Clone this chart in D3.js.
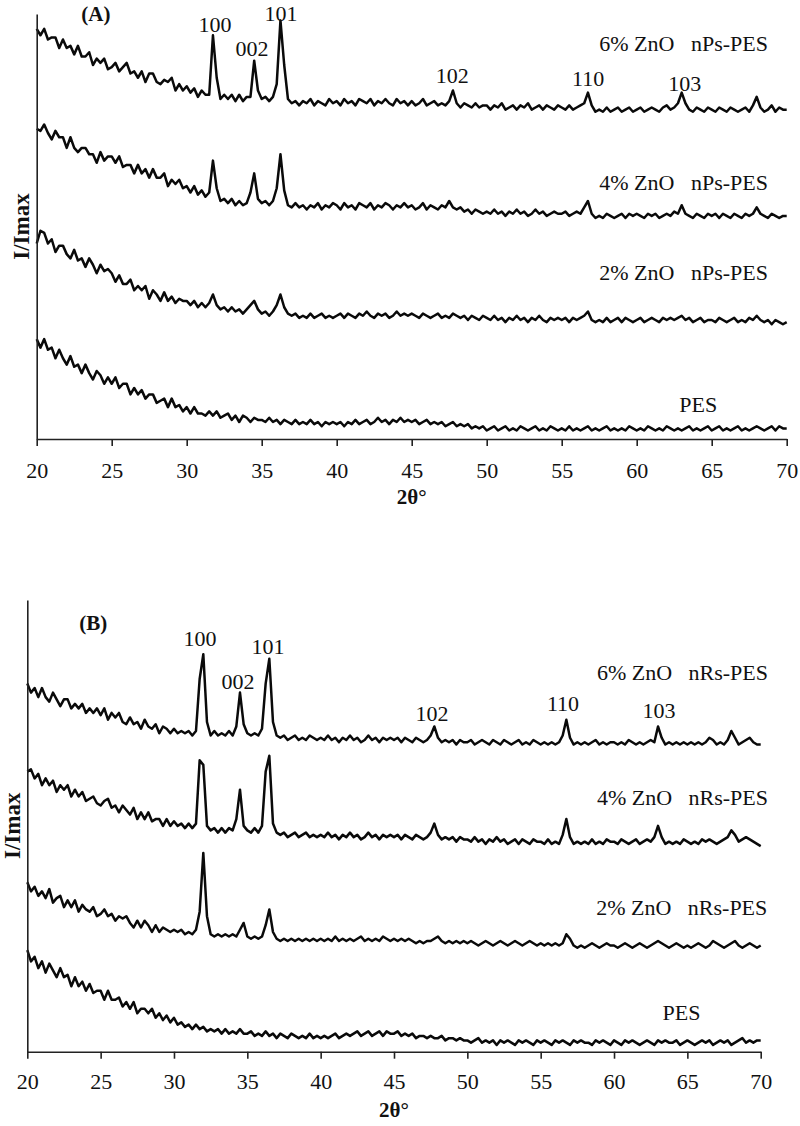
<!DOCTYPE html>
<html><head><meta charset="utf-8">
<script src="https://cdn.jsdelivr.net/npm/d3@7/dist/d3.min.js"></script>
<style>
body{margin:0;background:#fff}
svg{display:block}
text{font-family:"Liberation Serif","Times New Roman",serif;fill:#111}
</style>
</head><body>
<svg id="chart" width="800" height="1126"></svg>
<script>
// 2θ sampling grid (degrees)
const twoTheta = d3.range(0, 201).map(i => 20 + i * 0.25);
const xTicks = [20, 25, 30, 35, 40, 45, 50, 55, 60, 65, 70];

// Panel A (ZnO nanoparticles) – stacked intensities (arbitrary units, offset included)
const a6 = [193,190,193,188,189,189,184,188,184,185,181,185,180,180,182,176,179,177,179,174,
175,177,173,175,177,172,173,170,173,168,172,172,168,167,169,168,170,164,167,164,
166,163,165,161,164,162,162,190,170,160,162,160,162,159,162,159,161,161,178,164,
160,161,159,161,167,197,176,160,158,159,157,159,158,160,157,159,158,157,160,158,
159,157,160,158,159,157,160,159,158,160,157,159,158,160,158,157,160,158,159,157,
159,157,158,160,157,158,159,157,158,157,159,164,158,156,158,157,156,158,156,157,
157,155,157,156,158,155,156,157,155,157,156,158,155,156,157,155,157,156,155,157,
156,155,157,155,156,157,158,163,157,154,155,154,156,154,155,156,154,155,156,154,
155,156,154,155,156,155,154,156,157,155,156,158,163,158,155,154,156,155,154,156,
155,154,156,155,154,156,155,154,155,156,154,157,161,156,154,155,157,154,156,155,155];
const a4 = [146,145,148,144,141,145,142,142,137,142,137,135,137,137,134,134,130,135,131,133,
133,130,133,128,129,129,125,129,125,127,123,127,123,123,125,119,122,120,122,118,
119,116,119,115,117,114,116,131,118,112,113,111,113,110,112,110,111,116,125,113,
111,112,110,112,118,134,117,110,109,111,109,110,108,110,109,111,108,110,109,111,
110,108,111,109,110,108,111,110,109,111,108,110,109,111,110,108,110,109,111,109,
110,108,109,111,108,110,109,108,110,109,112,109,108,109,107,108,106,108,107,106,
107,106,108,106,107,105,107,106,108,106,107,105,106,108,106,107,105,106,107,106,
106,107,105,106,107,106,109,112,106,104,105,104,106,105,104,105,106,104,106,105,
106,105,104,106,105,106,104,105,106,105,107,106,110,106,105,104,106,105,104,106,
105,106,104,106,105,104,106,105,104,106,105,106,109,106,105,104,106,105,104,105,105];
const a2 = [92,98,97,92,94,88,91,91,87,85,89,84,85,81,85,82,78,82,79,80,
78,74,77,73,73,75,70,72,70,72,66,70,68,65,69,65,67,64,66,65,
65,63,65,62,64,62,64,68,63,61,62,60,62,60,61,59,61,63,65,61,
59,60,58,60,63,68,62,59,58,59,57,58,57,59,57,58,59,57,58,57,
58,59,57,59,58,57,59,58,60,58,57,59,58,59,57,58,60,58,59,58,
59,58,57,59,58,57,58,59,57,58,57,59,58,57,58,56,58,57,56,58,
57,56,58,56,57,55,57,56,58,56,57,55,57,56,58,56,55,57,56,57,
56,57,55,57,56,57,58,60,56,55,56,55,57,55,56,57,55,57,56,55,
56,57,55,56,57,56,55,57,56,57,56,57,58,56,57,55,56,57,55,56,
56,55,57,56,55,56,57,55,56,55,57,56,58,56,55,56,54,56,55,54,55];
const aPes = [47,43,47,42,43,38,42,38,35,39,34,35,31,35,31,28,32,30,26,29,
26,29,24,26,26,21,24,21,23,19,21,21,17,18,19,15,19,15,16,13,
15,12,15,12,12,11,13,11,13,10,11,12,9,11,8,11,10,8,10,9,
9,8,10,8,9,7,9,8,7,9,7,8,7,9,7,8,6,8,7,8,
7,8,6,8,7,9,7,8,9,7,8,10,8,9,7,9,8,10,8,9,
8,9,7,8,9,7,8,7,8,6,7,8,6,7,6,7,5,6,5,6,
4,5,6,4,5,6,4,5,4,6,5,4,5,6,4,5,4,6,5,4,
5,4,6,4,5,4,5,6,4,5,4,5,6,4,5,4,5,4,6,5,
4,5,4,6,5,4,5,4,6,5,4,5,4,5,6,4,5,4,5,6,
4,5,6,4,5,4,5,6,4,5,4,5,6,5,4,5,6,4,6,5,5];

// Panel B (ZnO nanorods)
const b6 = [163,159,161,157,161,157,155,159,156,153,156,156,152,154,152,154,150,152,150,152,
149,152,147,150,148,150,146,145,148,145,146,143,147,144,143,145,141,144,143,141,
143,141,142,141,142,140,142,165,176,146,140,142,140,141,140,142,140,144,159,145,
141,140,141,140,143,163,174,146,140,139,140,138,139,140,138,139,138,140,139,138,
139,138,140,138,139,137,139,138,140,138,139,137,138,140,138,139,137,139,138,139,
138,139,137,139,138,137,139,138,137,138,140,144,139,137,138,137,138,136,138,137,
137,138,136,137,138,137,136,138,137,136,138,137,136,137,138,136,137,136,138,137,
136,137,136,137,136,137,140,147,139,136,137,136,137,136,137,138,136,137,136,137,
137,136,137,136,138,137,136,137,136,137,138,137,144,139,136,137,136,137,136,137,
136,137,136,137,136,137,139,138,136,137,136,138,142,139,136,137,138,139,137,136,136];
const b4 = [124,125,121,123,118,121,118,120,115,118,116,118,113,116,113,115,111,112,113,110,
109,111,112,108,109,106,109,107,105,108,103,106,103,106,102,103,103,100,103,100,
102,100,101,99,101,99,101,129,127,100,98,99,97,99,97,99,98,103,116,100,
98,97,99,97,100,124,131,101,97,96,97,95,96,97,95,96,97,95,96,95,
96,95,97,95,96,94,96,95,97,95,96,94,95,97,95,96,94,96,95,96,
95,96,94,96,95,94,96,95,94,95,97,101,96,94,95,94,95,93,95,94,
94,93,95,93,94,92,94,93,95,93,94,92,93,94,92,94,93,92,94,93,
93,92,94,92,93,92,96,103,95,92,93,92,93,92,94,92,93,92,94,93,
93,92,94,93,92,93,94,92,93,94,93,95,100,95,92,93,92,93,92,94,
93,92,93,92,94,93,94,93,92,93,94,95,98,96,93,94,95,94,93,92,91];
const b2 = [75,71,73,69,71,68,72,66,68,69,64,67,64,67,62,65,63,62,64,60,
61,63,60,61,58,60,59,60,57,55,58,55,58,56,53,56,53,55,54,53,
54,53,54,52,53,52,54,62,88,60,52,51,52,51,52,51,52,51,54,57,
51,50,51,50,51,56,63,53,50,49,50,49,50,49,50,49,50,49,50,49,
50,49,50,49,51,49,50,49,50,49,50,51,49,50,49,50,49,51,50,49,
50,49,50,49,50,49,48,49,48,49,49,50,51,49,48,49,48,49,48,49,
48,49,48,47,48,49,48,47,48,49,48,47,48,49,48,47,48,49,48,47,
48,47,48,47,48,47,48,52,50,47,46,47,46,47,48,47,46,47,48,47,
47,46,47,48,47,46,47,48,47,46,47,48,49,48,47,46,47,48,47,46,
47,46,47,48,47,46,47,49,48,47,46,47,48,49,47,46,47,48,47,46,47];
const bPes = [45,40,42,37,40,35,39,36,33,37,33,34,29,33,29,31,27,30,26,27,
27,23,27,23,23,24,20,22,19,22,17,19,19,17,19,15,17,14,16,13,
15,12,13,11,12,10,12,10,11,9,10,9,10,8,10,8,9,8,10,8,
8,9,7,8,7,9,7,8,6,8,7,6,8,7,6,7,6,8,6,7,
6,7,6,7,8,6,7,8,7,8,9,7,8,9,7,8,9,7,9,8,
8,9,7,8,7,8,6,7,7,6,7,6,6,7,5,6,6,5,6,5,
5,4,5,6,4,5,4,5,3,5,4,5,4,3,5,4,5,4,3,5,
4,5,4,3,5,4,5,4,3,5,4,5,4,4,3,5,4,5,4,3,
5,4,3,5,4,5,4,3,4,5,4,3,5,4,5,4,4,5,3,4,
5,4,3,4,5,4,5,3,4,5,4,5,3,4,5,6,4,5,4,5,5];

const seriesNamesA = ["6% ZnO   nPs-PES", "4% ZnO   nPs-PES", "2% ZnO   nPs-PES", "PES"];
const seriesNamesB = ["6% ZnO   nRs-PES", "4% ZnO   nRs-PES", "2% ZnO   nRs-PES", "PES"];
const peakNames = ["100", "002", "101", "102", "110", "103"];

// Annotation anchors in data space (2θ, intensity) – layout config
const layout = {
  A: {
    tag: "(A)", range: [36.7, 786.7], top: 14, bottom: 439,
    tagPos: [23.95, 196.5],
    peakPos: [[31.89,191.5],[34.35,180.2],[36.29,196.8],[47.7,167.5],[56.76,166.1],[63.2,163.8]],
    namePos: [[68.75,182.6],[68.75,117.2],[68.75,74.8],[64.1,12.7]],
    yLabelX: 21, titleY: 497, tickPad: 16
  },
  B: {
    tag: "(B)", range: [27.3, 760.7], top: 600, bottom: 1051.7,
    tagPos: [24.5, 186.8],
    peakPos: [[31.77,179.7],[34.36,160.6],[36.41,176.1],[47.59,146.5],[56.52,150.9],[63.06,147.8]],
    namePos: [[70.5,164.6],[70.5,109.3],[70.45,60.6],[64.6,14.2]],
    yLabelX: 12, titleY: 1110, tickPad: 14.5
  }
};

const svg = d3.select("#chart");

function drawPanel(cfg, series, names) {
  const x = d3.scaleLinear().domain([20, 70]).range(cfg.range);
  const y = d3.scaleLinear().domain([0, 200]).range([cfg.bottom, cfg.top]);
  const g = svg.append("g");

  const line = d3.line().x((d, i) => x(twoTheta[i])).y(d => y(d));
  series.forEach(s => {
    g.append("path").datum(s).attr("d", line)
      .attr("fill", "none").attr("stroke", "#0a0a0a")
      .attr("stroke-width", 2.5).attr("stroke-linejoin", "round");
  });

  const xAxis = d3.axisBottom(x).tickValues(xTicks).tickSize(7).tickSizeOuter(0).tickPadding(cfg.tickPad);
  const ax = g.append("g").attr("transform", `translate(0,${cfg.bottom})`).call(xAxis);
  ax.select(".domain").attr("stroke", "#222").attr("stroke-width", 1.6);
  ax.selectAll(".tick line").attr("stroke", "#222").attr("stroke-width", 1.6);
  ax.selectAll(".tick text").attr("font-size", 22).attr("font-family", '"Liberation Serif",serif').attr("fill", "#111");

  const yAxis = d3.axisLeft(y).tickValues([]).tickSizeOuter(0);
  const ay = g.append("g").attr("transform", `translate(${cfg.range[0]},0)`).call(yAxis);
  ay.select(".domain").attr("stroke", "#222").attr("stroke-width", 1.6);

  g.append("text").attr("x", x(cfg.tagPos[0])).attr("y", y(cfg.tagPos[1]))
    .attr("text-anchor", "middle").attr("font-size", 21).attr("font-weight", "bold").text(cfg.tag);

  peakNames.forEach((p, i) => {
    g.append("text").attr("x", x(cfg.peakPos[i][0])).attr("y", y(cfg.peakPos[i][1]))
      .attr("text-anchor", "middle").attr("font-size", 22).text(p);
  });

  names.forEach((n, i) => {
    g.append("text").attr("x", x(cfg.namePos[i][0])).attr("y", y(cfg.namePos[i][1]))
      .attr("text-anchor", i === 3 ? "middle" : "end").attr("font-size", 22)
      .style("white-space", "pre").text(n);
  });

  const midY = (cfg.top + cfg.bottom) / 2;
  g.append("text").attr("transform", `translate(${cfg.yLabelX},${midY}) rotate(-90)`)
    .attr("text-anchor", "middle").attr("dominant-baseline", "central")
    .attr("font-size", 23).attr("font-weight", "bold").text("I/Imax");

  g.append("text").attr("x", (cfg.range[0] + cfg.range[1]) / 2).attr("y", cfg.titleY)
    .attr("text-anchor", "middle").attr("dominant-baseline", "central")
    .attr("font-size", 21).attr("font-weight", "bold").text("2θ°");
}

drawPanel(layout.A, [a6, a4, a2, aPes], seriesNamesA);
drawPanel(layout.B, [b6, b4, b2, bPes], seriesNamesB);
</script>
</body></html>
